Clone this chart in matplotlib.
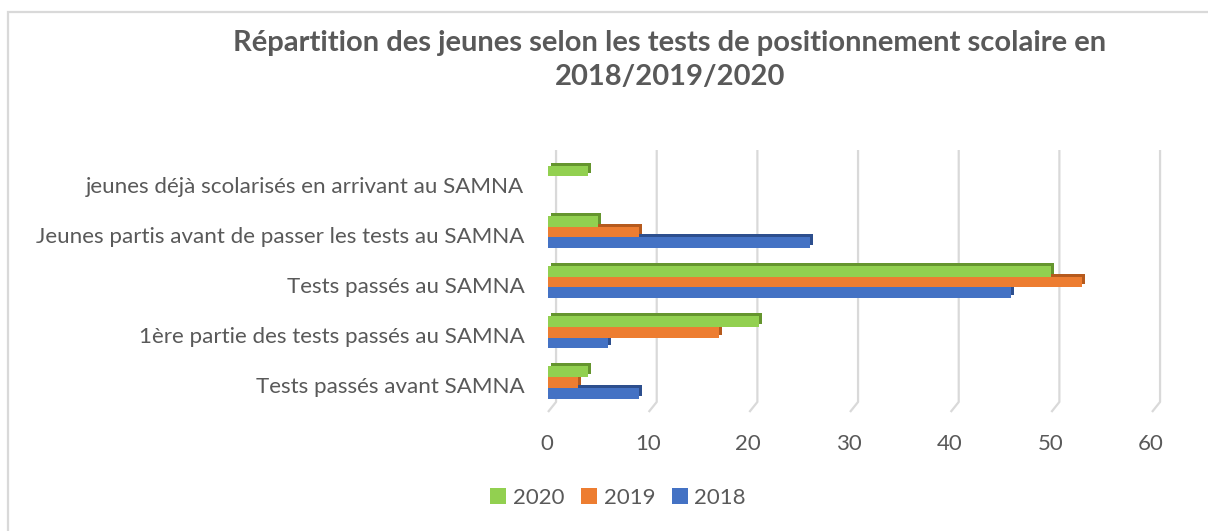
import numpy as np
import matplotlib
matplotlib.use("Agg")
import matplotlib.pyplot as plt
from matplotlib.patches import Rectangle, Patch
from matplotlib.transforms import offset_copy, ScaledTranslation

# ---- data ----
categories = [
    "Tests passés avant SAMNA",
    "1ère partie des tests passés au SAMNA",
    "Tests passés au SAMNA",
    "Jeunes partis avant de passer les tests au SAMNA",
    "jeunes déjà scolarisés en arrivant au SAMNA",
]
years = ["2020", "2019", "2018"]
v2018 = [9, 6, 46, 26, 0]
v2019 = [3, 17, 53, 9, 0]
v2020 = [4, 21, 50, 5, 4]
xticks = [0, 10, 20, 30, 40, 50, 60]
title = "Répartition des jeunes selon les tests de positionnement scolaire en\n2018/2019/2020"

# ---- style ----
FONT = "Lato"
TXT = "#595959"
GRID = "#d9d9d9"
front_colors = {"2020": "#92d050", "2019": "#ed7d31", "2018": "#4472c4"}
side_colors = {"2020": "#65952e", "2019": "#b65a1d", "2018": "#2d4f8e"}

W, H = 1208, 531
fig = plt.figure(figsize=(W / 100, H / 100), dpi=100)
fig.patch.set_facecolor("white")

# outer chart frame
fig.add_artist(Rectangle((8 / W, -0.1), 1.2, 1 - 12 / H + 0.1, transform=fig.transFigure,
                         fill=False, edgecolor=GRID, lw=1.6))

# axes placement in pixels: left 548 right 1152, top 150 bottom 412
ax = fig.add_axes([548 / W, (H - 412) / H, 604 / W, 262 / H])
ytop, ybot = 4.631, -0.588
ax.set_xlim(0, 60)
ax.set_ylim(ybot, ytop)
for s in ax.spines.values():
    s.set_visible(False)
ax.set_facecolor("none")

# 3D-style gridlines (back plane offset + slanted floor segment)
for v in xticks:
    ax.plot([v + 0.8, v + 0.8, v], [ytop, ybot + 0.2, ybot], color=GRID, lw=1.6,
            solid_capstyle="butt", zorder=0, clip_on=False)

y = np.arange(len(categories))
h = 0.213
series = {"2020": (v2020, h), "2019": (v2019, 0.0), "2018": (v2018, -h)}

shadow_tr = offset_copy(ax.transData, fig=fig, x=3, y=3, units="dots")
# side/top faces first
for yr in ["2018", "2019", "2020"]:
    vals, off = series[yr]
    vals = np.array(vals, dtype=float)
    m = vals > 0
    ax.barh(y[m] + off, vals[m], height=h, color=side_colors[yr], transform=shadow_tr,
            zorder=2, linewidth=0)
# front faces
for yr in ["2018", "2019", "2020"]:
    vals, off = series[yr]
    vals = np.array(vals, dtype=float)
    m = vals > 0
    ax.barh(y[m] + off, vals[m], height=h, color=front_colors[yr], zorder=3, linewidth=0)

ax.set_xlim(0, 60)
ax.set_ylim(ybot, ytop)

# y tick labels (categories)
ax.set_yticks(y)
ax.set_yticklabels(categories, fontfamily=FONT, fontsize=16.1, color=TXT)
ax.tick_params(axis="y", length=0, pad=17)
for lab in ax.get_yticklabels():
    lab.set_transform(lab.get_transform() + ScaledTranslation(0, -3 / 100, fig.dpi_scale_trans))

# x tick labels
ax.set_xticks(xticks)
ax.set_xticklabels([str(t) for t in xticks], fontfamily=FONT, fontsize=16, color=TXT)
ax.tick_params(axis="x", length=0, pad=16)
for lab in ax.get_xticklabels():
    lab.set_transform(lab.get_transform() + ScaledTranslation(-1 / 100, 0, fig.dpi_scale_trans))

# title
fig.text(670 / W, 1 - 60 / H, title, ha="center", va="center", fontfamily=FONT,
         fontweight="bold", fontsize=21, color=TXT, linespacing=1.36)

# legend
handles = [Patch(facecolor=front_colors[yr], edgecolor="none") for yr in years]
fig.legend(handles, years, loc="center", bbox_to_anchor=(618 / W, 1 - 498 / H), ncol=3,
           frameon=False, handlelength=0.72, handleheight=0.72, handletextpad=0.3,
           columnspacing=0.75, prop={"family": FONT, "size": 16}, labelcolor=TXT)

fig.savefig("out.png", dpi=100, facecolor="white")
